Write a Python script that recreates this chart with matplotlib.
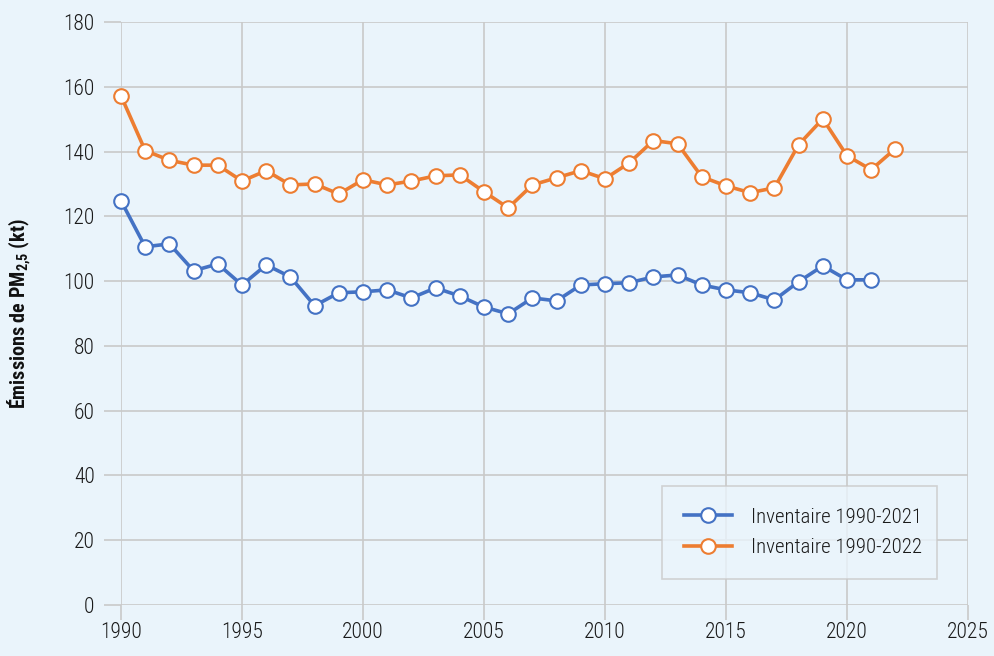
import matplotlib
matplotlib.use("Agg")
import matplotlib.pyplot as plt
from matplotlib import font_manager as fm

names = {f.name for f in fm.fontManager.ttflist}
FONT = "Roboto"
for cand in ["Roboto Condensed", "Archivo Narrow", "Barlow Condensed", "Liberation Sans Narrow"]:
    if cand in names:
        FONT = cand
        break
plt.rcParams['font.family'] = [FONT, 'DejaVu Sans']
plt.rcParams['mathtext.default'] = 'regular'

years_2022 = list(range(1990, 2023))
inv_2022 = [157.2, 140.3, 137.3, 135.8, 135.8, 130.9, 134.1, 129.7, 130.0, 126.9,
            131.3, 129.7, 130.9, 132.5, 132.8, 127.6, 122.6, 129.7, 131.9, 134.1,
            131.6, 136.5, 143.4, 142.4, 132.2, 129.4, 127.3, 128.8, 142.1, 150.1,
            138.7, 134.4, 140.9]
years_2021 = list(range(1990, 2022))
inv_2021 = [124.8, 110.6, 111.5, 103.2, 105.3, 98.8, 105.0, 101.3, 92.4, 96.4,
            96.7, 97.3, 94.8, 97.9, 95.4, 92.0, 89.9, 94.8, 93.9, 98.8,
            99.2, 99.5, 101.3, 101.9, 98.8, 97.3, 96.4, 94.2, 99.8, 104.7,
            100.4, 100.4]
labels = ["Inventaire 1990-2021", "Inventaire 1990-2022"]
xticks = list(range(1990, 2026, 5))
yticks = list(range(0, 181, 20))

BG = "#EAF4FB"
GRID = "#C9C9C9"
BLUE = "#4472C4"
ORANGE = "#ED7D31"

fig = plt.figure(figsize=(9.95, 6.56), dpi=100, facecolor=BG)
ax = fig.add_axes([121/995, 51/656, (968-121)/995, (605-22)/656])
ax.set_facecolor(BG)

kw = dict(linewidth=2.6, marker='o', markersize=10.5, markerfacecolor='white',
          markeredgewidth=1.5, solid_joinstyle='round', clip_on=False)
ax.plot(years_2021, inv_2021, color=BLUE, markeredgecolor=BLUE, label=labels[0], zorder=3, **kw)
ax.plot(years_2022, inv_2022, color=ORANGE, markeredgecolor=ORANGE, label=labels[1], zorder=3, **kw)

ax.set_xlim(1990, 2025)
ax.set_ylim(0, 180)
ax.set_xticks(xticks)
ax.set_yticks(yticks)
ax.grid(True, color=GRID, linewidth=1.2)
ax.set_axisbelow(True)
for s in ax.spines.values():
    s.set_visible(False)
ax.tick_params(axis='both', colors=GRID, width=1.2, labelcolor='#1a1a1a', labelsize=15.5)
ax.tick_params(axis='y', length=12, pad=7)
ax.tick_params(axis='x', length=11, pad=1)
for lab in ax.get_xticklabels() + ax.get_yticklabels():
    lab.set_fontweight(300)

ax.set_ylabel("Émissions de PM$_{2{,}5}$ (kt)", fontsize=14.5, fontweight='bold', color='#111111')
ax.yaxis.set_label_coords(-(121-32)/847, 0.5)

leg = ax.legend(loc='lower left', bbox_to_anchor=(662/995, (656-579)/656, (937-662)/995, (579-488)/656),
                bbox_transform=fig.transFigure, mode='expand', frameon=True, fancybox=False,
                handlelength=2.3, borderpad=1.05, labelspacing=0.55, borderaxespad=0,
                handletextpad=0.9, prop={'family': [FONT, 'DejaVu Sans'], 'size': 15, 'weight': 300})
leg.get_frame().set_facecolor(BG)
leg.get_frame().set_edgecolor(GRID)
leg.get_frame().set_linewidth(1.2)
for t in leg.get_texts():
    t.set_color('#1a1a1a')

fig.savefig("out.png", dpi=100, facecolor=BG)
